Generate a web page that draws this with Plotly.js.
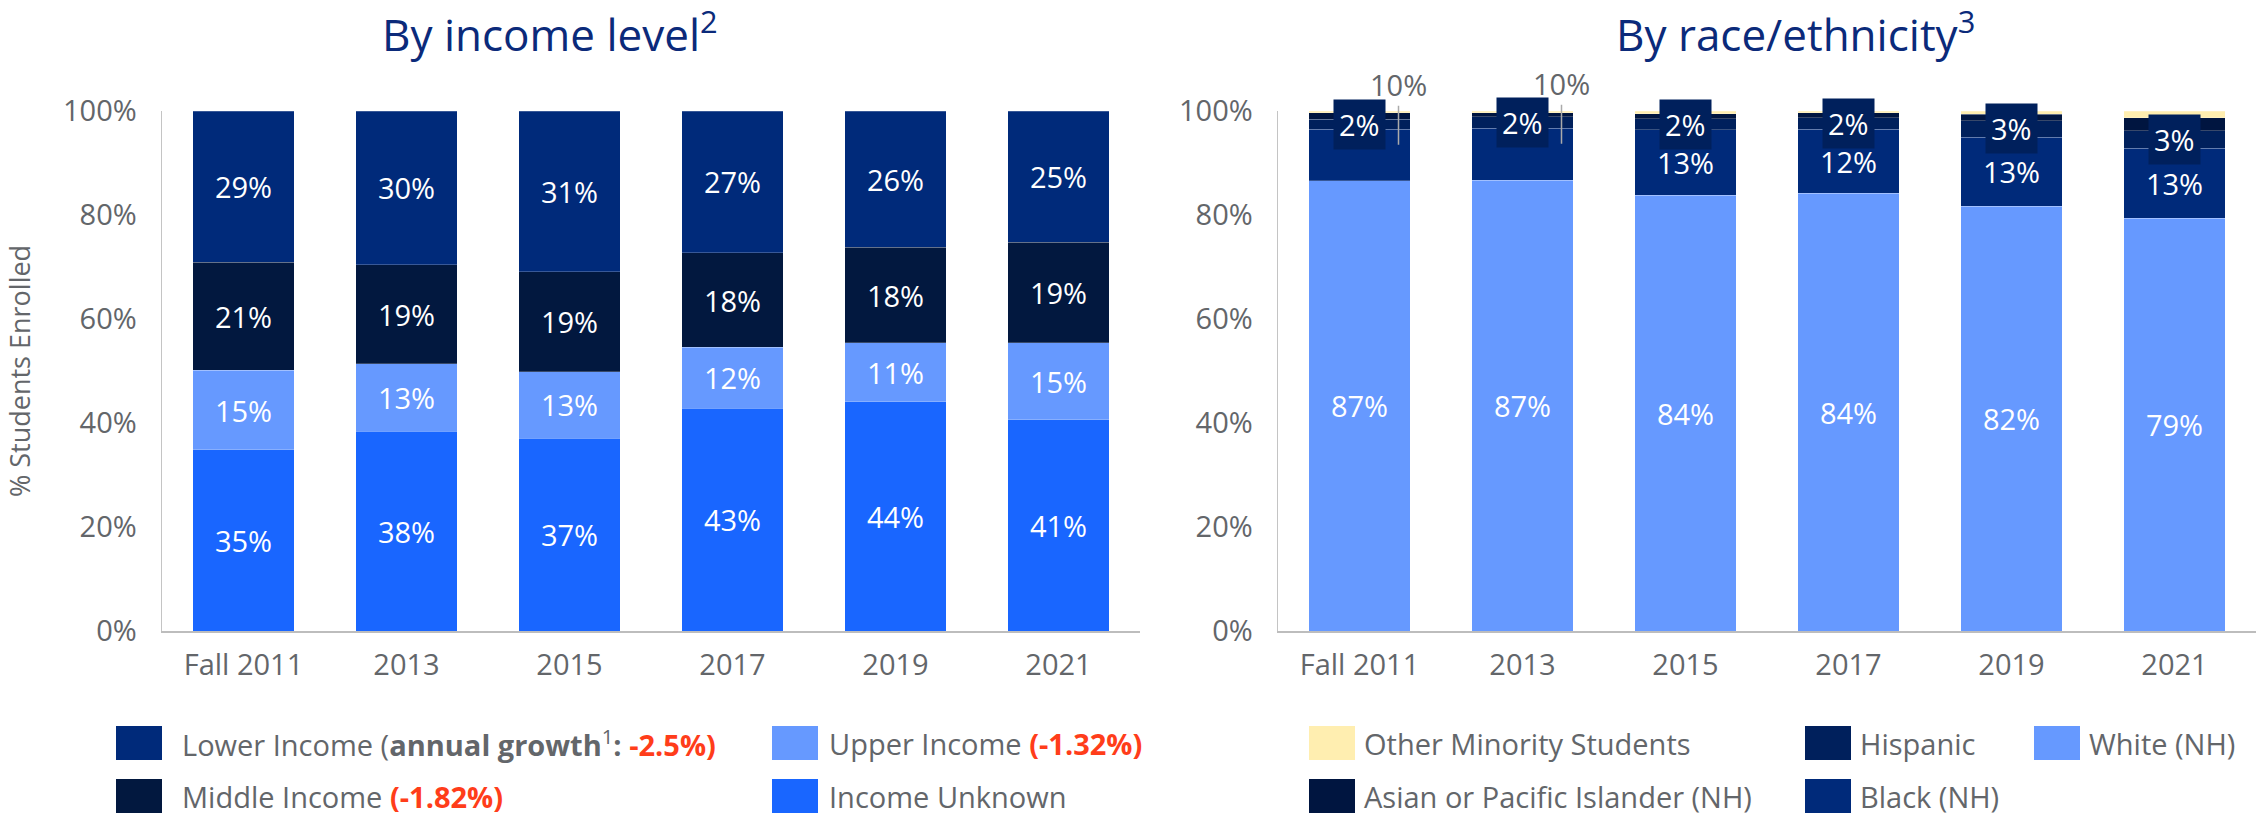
<!DOCTYPE html>
<html><head><meta charset="utf-8">
<script src="https://cdn.plot.ly/plotly-3.0.1.min.js"></script>
<style>html,body{margin:0;padding:0;background:#fff}#chart{width:2267px;height:815px}</style>
</head><body><div id="chart"></div>
<script>
// ---------- data ----------
const years = ['Fall 2011', '2013', '2015', '2017', '2019', '2021'];

// By income level (bottom -> top)
const incomeUnknown = [34.9, 38.4, 37.1, 42.8, 44.1, 40.6];
const upperIncome   = [15.2, 13.0, 12.8, 11.8, 11.3, 14.8];
const middleIncome  = [20.8, 19.0, 19.2, 18.1, 18.4, 19.4];
const lowerIncome   = [29.1, 29.6, 30.9, 27.3, 26.2, 25.2];

// By race/ethnicity (bottom -> top)
const white         = [86.6, 86.7, 83.8, 84.2, 81.7, 79.4];
const black         = [9.9, 10.0, 12.6, 12.3, 13.3, 13.4];
const hispanic      = [1.9, 2.2, 2.1, 2.2, 3.1, 3.4];
const asianPI       = [1.3, 0.8, 1.0, 1.0, 1.3, 2.5];
const otherMinority = [0.3, 0.3, 0.5, 0.3, 0.6, 1.3];

const incomeNames = ['Income Unknown', 'Upper Income', 'Middle Income', 'Lower Income'];
const raceNames = ['White (NH)', 'Black (NH)', 'Hispanic', 'Asian or Pacific Islander (NH)', 'Other Minority Students'];
const growth = {lower: '-2.5%', middle: '-1.82%', upper: '-1.32%'};
const yTicks = [0, 20, 40, 60, 80, 100];

// ---------- style ----------
const COL = {
  unknown: '#1966FF', upper: '#6699FF', middle: '#02183F', lower: '#002A7A',
  white: '#6699FF', black: '#002A7A', hispanic: '#00205C', asian: '#001540', other: '#FFEEB0'
};
const RED = '#FF3D1A';
const GREY = '#63666A';
const TITLE = '#0B2A7A';
const FONT = 'Open Sans, Noto Sans, sans-serif';
const W = 2267, H = 815;
const px = v => v / W, py = v => 1 - v / H;
const pct = v => Math.round(v) + '%';
const CALLOUT = 10.5; // black shares below this are labelled outside the bar

function barTrace(y, name, color, xa, ya, labels, positions) {
  const t = {
    type: 'bar', x: years, y: y, name: name, xaxis: xa, yaxis: ya,
    marker: {color: color, line: {color: 'rgba(255,255,255,0.22)', width: 1}},
    hoverinfo: 'skip'
  };
  if (labels) {
    t.text = labels;
    t.textposition = positions || 'inside';
    t.insidetextanchor = 'middle';
    t.textangle = 0;
    t.constraintext = 'none';
    t.textfont = {color: '#FFFFFF', size: 29, family: FONT};
  } else {
    t.textposition = 'none';
  }
  return t;
}

const traces = [
  barTrace(incomeUnknown, incomeNames[0], COL.unknown, 'x', 'y', incomeUnknown.map(pct)),
  barTrace(upperIncome, incomeNames[1], COL.upper, 'x', 'y', upperIncome.map(pct)),
  barTrace(middleIncome, incomeNames[2], COL.middle, 'x', 'y', middleIncome.map(pct)),
  barTrace(lowerIncome, incomeNames[3], COL.lower, 'x', 'y', lowerIncome.map(pct)),
  barTrace(white, raceNames[0], COL.white, 'x2', 'y2', white.map(pct)),
  barTrace(black, raceNames[1], COL.black, 'x2', 'y2', black.map(pct),
    black.map(v => v >= CALLOUT ? 'inside' : 'none')),
  barTrace(hispanic, raceNames[2], COL.hispanic, 'x2', 'y2', null),
  barTrace(asianPI, raceNames[3], COL.asian, 'x2', 'y2', null),
  barTrace(otherMinority, raceNames[4], COL.other, 'x2', 'y2', null)
];

const annotations = [];
const shapes = [];

// titles
annotations.push({text: 'By income level<sup>2</sup>', xref: 'paper', yref: 'paper', x: px(550), y: py(32),
  showarrow: false, xanchor: 'center', yanchor: 'middle', font: {size: 44, color: TITLE, family: FONT}});
annotations.push({text: 'By race/ethnicity<sup>3</sup>', xref: 'paper', yref: 'paper', x: px(1795), y: py(32),
  showarrow: false, xanchor: 'center', yanchor: 'middle', font: {size: 44, color: TITLE, family: FONT}});

// hispanic labels (boxed) and black call-outs on the right chart
years.forEach((yr, i) => {
  annotations.push({x: i, y: white[i] + black[i] + hispanic[i] / 2, xref: 'x2', yref: 'y2',
    text: pct(hispanic[i]), showarrow: false, bgcolor: COL.hispanic, borderpad: 5,
    font: {size: 29, color: '#FFFFFF', family: FONT}});
  if (black[i] < CALLOUT) {
    annotations.push({x: i, y: white[i] + black[i] * 0.7, xref: 'x2', yref: 'y2', xshift: 39,
      text: pct(black[i]), showarrow: true, arrowhead: 0, arrowwidth: 1.5, arrowcolor: '#AAAAAA',
      ax: 0, ay: -60, standoff: 0, font: {size: 29, color: GREY, family: FONT}});
  }
});

// custom legends
function legendItem(sqx, textx, yc, color, text) {
  shapes.push({type: 'rect', xref: 'paper', yref: 'paper', x0: px(sqx), x1: px(sqx + 46),
    y0: py(yc + 17), y1: py(yc - 17), fillcolor: color, line: {width: 0}});
  annotations.push({text: text, xref: 'paper', yref: 'paper', x: px(textx), y: py(yc),
    xanchor: 'left', yanchor: 'middle', showarrow: false, font: {size: 29, color: GREY, family: FONT}});
}
const red = s => '<span style="color:' + RED + '"><b>' + s + '</b></span>';
legendItem(116, 180, 743, COL.lower, incomeNames[3] + ' (<b>annual growth</b><sup>1</sup><b>:</b> ' + red(growth.lower + ')'));
legendItem(772, 827, 743, COL.upper, incomeNames[1] + ' ' + red('(' + growth.upper + ')'));
legendItem(116, 180, 796, COL.middle, incomeNames[2] + ' ' + red('(' + growth.middle + ')'));
legendItem(772, 827, 796, COL.unknown, incomeNames[0]);
legendItem(1309, 1362, 743, COL.other, raceNames[4]);
legendItem(1805, 1858, 743, COL.hispanic, raceNames[2]);
legendItem(2034, 2087, 743, COL.white, raceNames[0]);
legendItem(1309, 1362, 796, COL.asian, raceNames[3]);
legendItem(1805, 1858, 796, COL.black, raceNames[1]);

function xAxis(domain, anchor) {
  return {domain: domain, anchor: anchor, type: 'category', showline: true, linecolor: '#BDBDBD', linewidth: 2,
    ticks: 'outside', ticklen: 7, tickcolor: 'rgba(0,0,0,0)', showgrid: false, zeroline: false,
    tickfont: {size: 29, color: GREY, family: FONT}, fixedrange: true};
}
function yAxis(anchor, title) {
  const a = {domain: [py(631), py(111)], anchor: anchor, range: [0, 100], tickvals: yTicks,
    ticktext: yTicks.map(v => v + '%'), showgrid: false, zeroline: false, showline: true,
    linecolor: '#C4C4C4', linewidth: 1.5, ticks: 'outside', ticklen: 18, tickcolor: 'rgba(0,0,0,0)',
    tickfont: {size: 29, color: GREY, family: FONT}, fixedrange: true};
  if (title) a.title = {text: title, font: {size: 27, color: GREY, family: FONT}, standoff: 24};
  return a;
}

const layout = {
  width: W, height: H, margin: {l: 0, r: 0, t: 0, b: 0},
  barmode: 'stack', bargap: 0.375, showlegend: false,
  paper_bgcolor: '#FFFFFF', plot_bgcolor: '#FFFFFF',
  font: {family: FONT, size: 29, color: GREY},
  xaxis: xAxis([px(162), px(1140)], 'y'),
  yaxis: yAxis('x', '% Students Enrolled'),
  xaxis2: xAxis([px(1278), px(2256)], 'y2'),
  yaxis2: yAxis('x2', null),
  annotations: annotations, shapes: shapes
};

Plotly.newPlot('chart', traces, layout, {staticPlot: true, displayModeBar: false});
</script>
</body></html>
